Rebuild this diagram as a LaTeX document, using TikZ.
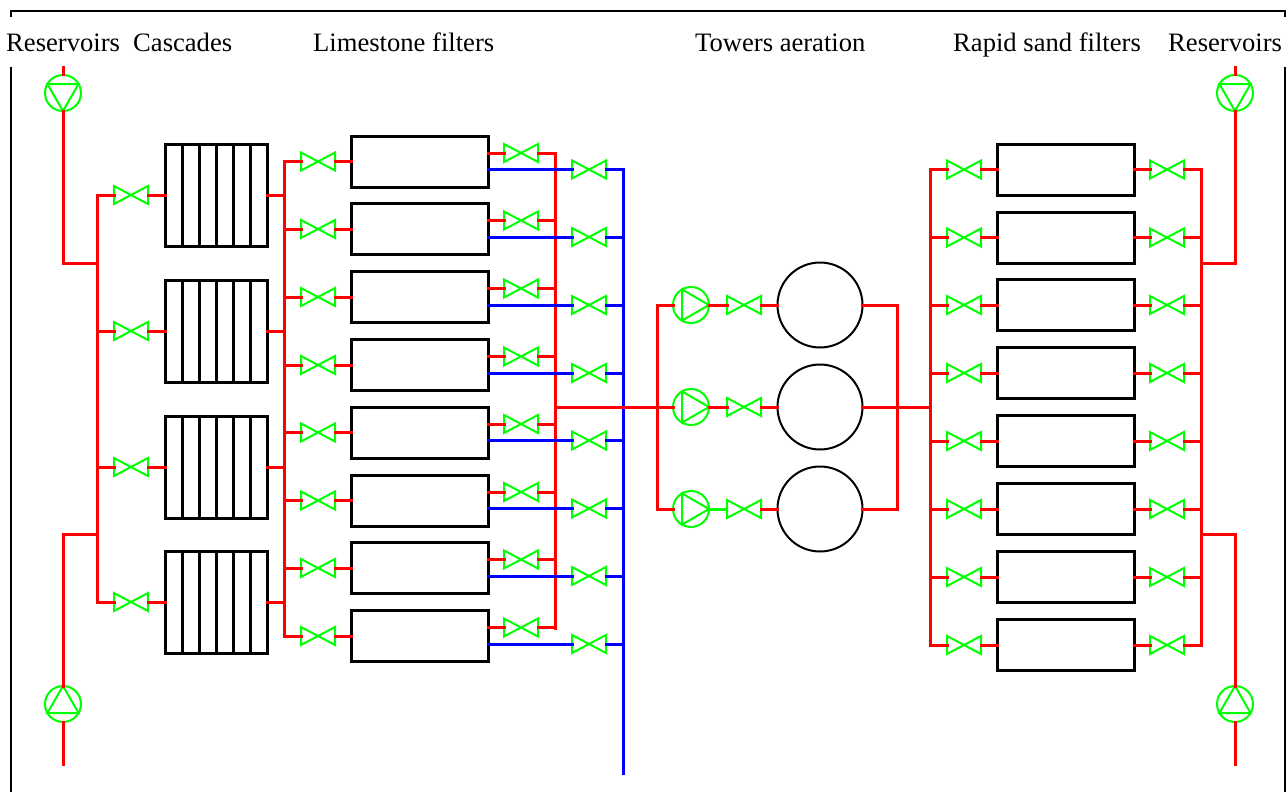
\documentclass[tikz,border=0pt]{standalone}
\usepackage{fontspec}
\setmainfont{Liberation Serif}
\usepackage{tikz}
\usetikzlibrary{calc}

\tikzset{
	redpipe/.style={red,line width=3pt,line cap=rect},
	bluepipe/.style={blue,line width=3pt,line cap=rect},
	greenline/.style={green,line width=2pt},
	blackline/.style={black,line width=3pt},
	tank/.style={draw=black,line width=3pt,rectangle,inner sep=0pt,outer sep=0pt,minimum height=51pt,minimum width=137pt},
	cascade/.style={draw=black,line width=3pt,rectangle,inner sep=0pt,outer sep=0pt,minimum height=102pt,minimum width=102pt},
	tower/.style={draw=black,line width=2pt,circle,inner sep=0pt,outer sep=0pt,minimum size=85pt},
	pumpbody/.style={draw=green,line width=2pt,circle,inner sep=0pt,outer sep=0pt,minimum size=36pt},
	valvebody/.style={rectangle,inner sep=0pt,outer sep=0pt,minimum width=34pt,minimum height=18pt},
	heading/.style={inner sep=0pt,anchor=base west,font=\fontsize{26.6}{30}\selectfont}
}

% valve: name, x, y
\newcommand{\valve}[3]{
	\node[valvebody] (#1) at (#2,#3) {};
	\draw[greenline] (#1.south west) -- (#1.north east) -- (#1.south east) -- (#1.north west) -- cycle;
}
% pump: name, x, y, angle of the tip
\newcommand{\pump}[4]{
	\node[pumpbody] (#1) at (#2,#3) {};
	\draw[greenline] (#1.#4) -- (#1.#4+120) -- (#1.#4+240) -- cycle;
}

\begin{document}
\begin{tikzpicture}[x=1pt,y=-1pt]
	\useasboundingbox (0,0) rectangle (1286,792);

	% frame
	\draw[blackline,line width=2pt] (11,17) -- (11,11) -- (1285,11) -- (1285,17);
	\draw[blackline,line width=2pt] (11,67) -- (11,792);
	\draw[blackline,line width=2pt] (1285,67) -- (1285,792);

	% headings
	\node[heading] (headresa) at (6,52) {Reservoirs};
	\node[heading] (headcasc) at (133,52) {Cascades};
	\node[heading] (headlime) at (313,52) {Limestone filters};
	\node[heading] (headtow) at (695,52) {Towers aeration};
	\node[heading] (headsand) at (953,52) {Rapid sand filters};
	\node[heading] (headresb) at (1168,52) {Reservoirs};

	% collectors
	\coordinate (cola) at (97,195);
	\coordinate (colaend) at (97,602);
	\coordinate (colb) at (284,161);
	\coordinate (colbend) at (284,636);
	\coordinate (colc) at (555,153);
	\coordinate (colcend) at (555,628);
	\coordinate (cold) at (623,170);
	\coordinate (coldend) at (623,773);
	\coordinate (cole) at (657,305);
	\coordinate (coleend) at (657,509);
	\coordinate (colf) at (897,305);
	\coordinate (colfend) at (897,509);
	\coordinate (colg) at (930,170);
	\coordinate (colgend) at (930,645);
	\coordinate (colh) at (1201,170);
	\coordinate (colhend) at (1201,645);
	\draw[redpipe] (cola) -- (colaend);
	\draw[redpipe] (colb) -- (colbend);
	\draw[redpipe] (colc) -- (colcend);
	\draw[redpipe] (cole) -- (coleend);
	\draw[redpipe] (colf) -- (colfend);
	\draw[redpipe] (colg) -- (colgend);
	\draw[redpipe] (colh) -- (colhend);

	% cascades
	\foreach \y [count=\i] in {195,331,467,602} {
		\node[cascade] (casc\i) at (216,\y) {};
		\foreach \t in {1,...,5}
			\draw[blackline] ($(casc\i.north west)!\t/6!(casc\i.north east)$) -- ($(casc\i.south west)!\t/6!(casc\i.south east)$);
		\valve{casv\i}{131}{\y}
		\draw[redpipe] (casv\i.west) -- (casv\i.west -| cola);
		\draw[redpipe] (casv\i.east) -- (casc\i.west);
		\draw[redpipe] (casc\i.east) -- (casc\i.east -| colb);
	}

	% limestone filters
	\foreach \y [count=\i] in {161.5,229,297,365,432.5,500.5,568,636} {
		\node[tank] (lime\i) at (419.5,\y) {};
		\valve{limv\i}{318}{\y}
		\valve{redv\i}{521}{\y-8.5}
		\valve{bluv\i}{589}{\y+8}
		\draw[redpipe] (limv\i.west) -- (limv\i.west -| colb);
		\draw[redpipe] (limv\i.east) -- (lime\i.west);
		\draw[redpipe] (lime\i.east |- redv\i) -- (redv\i.west);
		\draw[redpipe] (redv\i.east) -- (redv\i.east -| colc);
		\draw[bluepipe] (lime\i.east |- bluv\i) -- (bluv\i.west);
		\draw[bluepipe] (bluv\i.east) -- (bluv\i.east -| cold);
	}
	\draw[bluepipe] (cold) -- (coldend);

	% towers
	\foreach \y [count=\i] in {305,407,509} {
		\pump{pmp\i}{691}{\y}{0}
		\valve{towv\i}{744}{\y}
		\node[tower] (tow\i) at (820,\y) {};
		\draw[redpipe] (pmp\i.west) -- (pmp\i.west -| cole);
		\draw[redpipe] (towv\i.east) -- (tow\i.west);
		\draw[redpipe] (tow\i.east) -- (tow\i.east -| colf);
	}
	\draw[redpipe] (pmp1.east) -- (towv1.west);
	\draw[redpipe] (pmp2.east) -- (towv2.west);
	\draw[greenline,line width=3pt] (pmp3.east) -- (towv3.west);
	\draw[redpipe] (colc |- pmp2) -- (pmp2.west);
	\draw[redpipe] (tow2.east) -- (tow2.east -| colg);

	% rapid sand filters
	\foreach \y [count=\i] in {169.5,237.5,305,373,441,509,577,645} {
		\node[tank] (sand\i) at (1066,\y) {};
		\valve{sanv\i}{964}{\y}
		\valve{outv\i}{1167}{\y}
		\draw[redpipe] (sanv\i.west) -- (sanv\i.west -| colg);
		\draw[redpipe] (sanv\i.east) -- (sand\i.west);
		\draw[redpipe] (sand\i.east) -- (outv\i.west);
		\draw[redpipe] (outv\i.east) -- (outv\i.east -| colh);
	}

	% reservoirs
	\pump{pmpa}{63}{93}{270}
	\pump{pmpb}{63}{704}{90}
	\pump{pmpc}{1235}{93}{270}
	\pump{pmpd}{1235}{704}{90}
	\coordinate (inla) at (63,68);
	\coordinate (joina) at (97,263);
	\coordinate (joinb) at (97,534);
	\coordinate (inlb) at (63,764);
	\coordinate (inlc) at (1235,68);
	\coordinate (joinc) at (1201,263);
	\coordinate (joind) at (1201,534);
	\coordinate (inld) at (1235,764);
	\draw[redpipe] (inla) -- (pmpa.north);
	\draw[redpipe] (pmpa.south) |- (joina);
	\draw[redpipe] (pmpb.north) |- (joinb);
	\draw[redpipe] (pmpb.south) -- (inlb);
	\draw[redpipe] (inlc) -- (pmpc.north);
	\draw[redpipe] (pmpc.south) |- (joinc);
	\draw[redpipe] (pmpd.north) |- (joind);
	\draw[redpipe] (pmpd.south) -- (inld);
\end{tikzpicture}
\end{document}
